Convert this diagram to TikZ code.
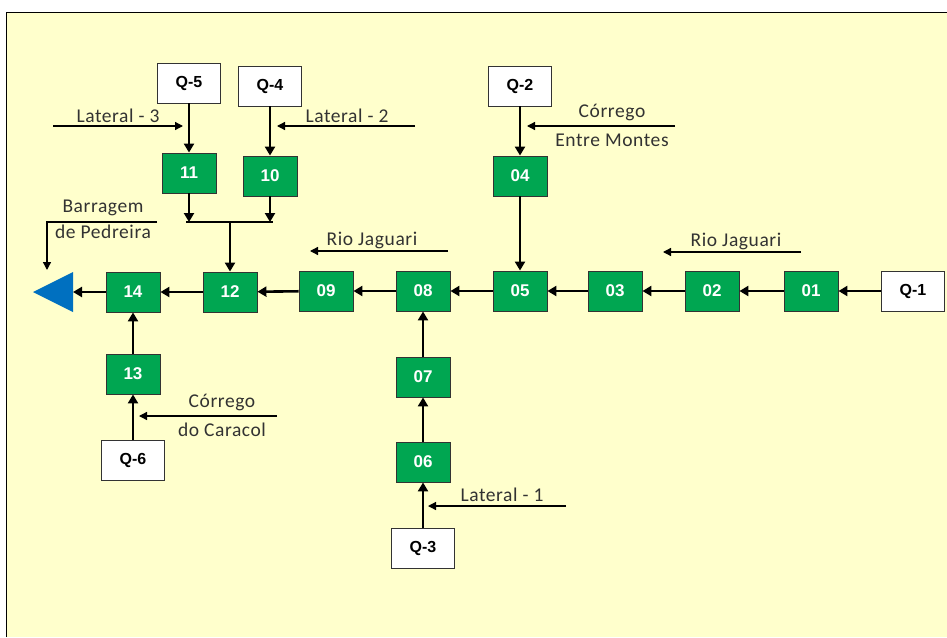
\documentclass[tikz,border=0pt]{standalone}
\usepackage{fontspec}
\setmainfont{Liberation Sans}
\newfontfamily\annfont[LetterSpace=3]{Carlito}
\newfontfamily\qfont{Liberation Sans}
\usetikzlibrary{arrows.meta}
\definecolor{bg}{RGB}{255,255,204}
\definecolor{boxgreen}{RGB}{0,166,81}
\definecolor{triblue}{RGB}{0,112,192}
\definecolor{anntext}{RGB}{50,50,50}
\begin{document}
\begin{tikzpicture}[x=1pt,y=-1pt,
  gbox/.style={draw=black!80, line width=0.9pt, fill=boxgreen, text=white,
    font=\bfseries\fontsize{17}{17}\selectfont, minimum width=54pt, minimum height=40pt, inner sep=0pt},
  wbox/.style={draw=black!80, line width=0.9pt, fill=white, text=black,
    font=\qfont\bfseries\fontsize{16}{16}\selectfont, minimum width=63pt, minimum height=40pt, inner sep=0pt},
  flow/.style={line width=2.6pt, -{Triangle[width=10pt,length=9pt]}},
  ann/.style={line width=1.3pt, -{Triangle[width=8pt,length=8pt]}},
  lbl/.style={font=\annfont\fontsize{19.5}{19.5}\selectfont, text=anntext, inner sep=0pt}
]
\useasboundingbox (0,0) rectangle (947,637);
\fill[bg] (6,12) rectangle (947,637);
\draw[line width=1pt] (6,637) -- (6,12) -- (947,12);

% boxes
\node[gbox] (b01) at (811,291) {01};
\node[gbox] (b02) at (712,291) {02};
\node[gbox] (b03) at (615,291) {03};
\node[gbox] (b05) at (520,291) {05};
\node[gbox] (b08) at (423,291) {08};
\node[gbox] (b09) at (326,291) {09};
\node[gbox] (b12) at (230,292) {12};
\node[gbox] (b14) at (133,292) {14};
\node[gbox] (b13) at (133,374) {13};
\node[gbox] (b11) at (189,173) {11};
\node[gbox] (b10) at (270,176) {10};
\node[gbox] (b04) at (520,176) {04};
\node[gbox] (b07) at (423,377) {07};
\node[gbox] (b06) at (423,462) {06};

\node[wbox] (q1) at (913,291) {Q-1};
\node[wbox] (q2) at (520,86) {Q-2};
\node[wbox] (q3) at (423,548) {Q-3};
\node[wbox] (q4) at (270,86) {Q-4};
\node[wbox] (q5) at (189,83) {Q-5};
\node[wbox] (q6) at (133,460) {Q-6};

% outlet triangle
\fill[triblue] (33,292) -- (73,272) -- (73,312) -- cycle;
\coordinate (tri) at (73,292);

% main flow
\draw[flow] (q1) -- (b01);
\draw[flow] (b01) -- (b02);
\draw[flow] (b02) -- (b03);
\draw[flow] (b03) -- (b05);
\draw[flow] (b05) -- (b08);
\draw[flow] (b08) -- (b09);
\draw[flow] (b09) -- (b12);
\draw[flow] (b12) -- (b14);
\draw[flow] (b14) -- (tri);
\draw[flow] (q2) -- (b04);
\draw[flow] (b04) -- (b05);
\draw[flow] (q3) -- (b06);
\draw[flow] (b06) -- (b07);
\draw[flow] (b07) -- (b08);
\draw[flow] (q6) -- (b13);
\draw[flow] (b13) -- (b14);
\draw[flow] (q5) -- (b11);
\draw[flow] (q4) -- (b10);
\coordinate (j11) at (189,222);
\coordinate (j10) at (270,222);
\coordinate (jm) at (230,222);
\draw[flow] (b11) -- (j11);
\draw[flow] (b10) -- (j10);
\draw[line width=2.6pt] (186,222) -- (273,222);
\draw[flow] (jm) -- (b12);

% annotations
\coordinate (l3a) at (53,126); \coordinate (l3b) at (183,126);
\draw[ann] (l3a) -- (l3b);
\node[lbl] (l3) at (118,116) {Lateral - 3};

\coordinate (l2a) at (415,126); \coordinate (l2b) at (277,126);
\draw[ann] (l2a) -- (l2b);
\node[lbl] (l2) at (347,116) {Lateral - 2};

\coordinate (cea) at (675,126); \coordinate (ceb) at (527,126);
\draw[ann] (cea) -- (ceb);
\node[lbl] (ce1) at (612,113) {Córrego};
\node[lbl] (ce2) at (612,140) {Entre Montes};

\coordinate (rja) at (801,252); \coordinate (rjb) at (663,252);
\draw[ann] (rja) -- (rjb);
\node[lbl] (rj1) at (736,241) {Rio Jaguari};

\coordinate (rka) at (448,251); \coordinate (rkb) at (310,251);
\draw[ann] (rka) -- (rkb);
\node[lbl] (rj2) at (372,240) {Rio Jaguari};

\coordinate (l1a) at (566,506); \coordinate (l1b) at (428,506);
\draw[ann] (l1a) -- (l1b);
\node[lbl] (l1) at (502,495) {Lateral - 1};

\coordinate (cca) at (277,416); \coordinate (ccb) at (139,416);
\draw[ann] (cca) -- (ccb);
\node[lbl] (cc1) at (222,403) {Córrego};
\node[lbl] (cc2) at (222,430) {do Caracol};

\coordinate (bpa) at (157,222); \coordinate (bpc) at (47,222); \coordinate (bpb) at (47,270);
\draw[ann] (bpa) -- (bpc) -- (bpb);
\node[lbl] (bp1) at (103,208) {Barragem};
\node[lbl] (bp2) at (103,232) {de Pedreira};
\end{tikzpicture}
\end{document}
